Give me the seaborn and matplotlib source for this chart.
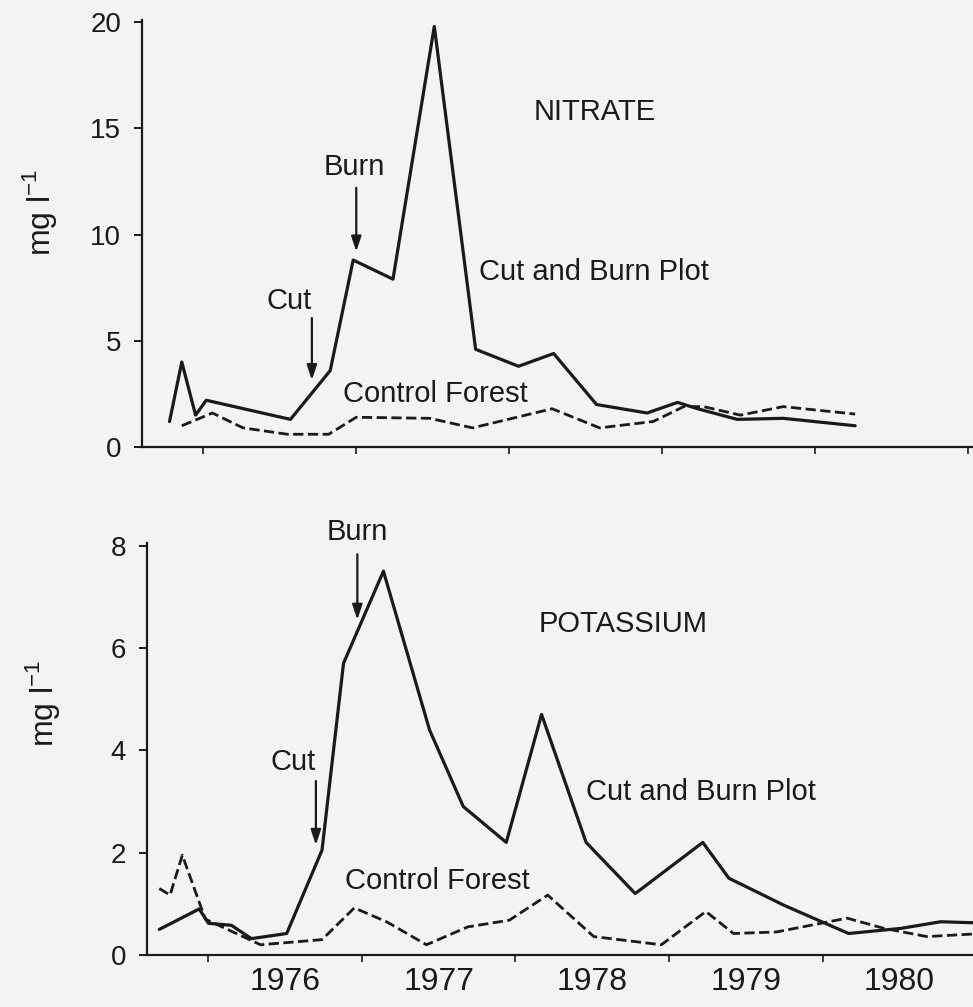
import numpy as np
import pandas as pd
import matplotlib
matplotlib.use("Agg")
import matplotlib.pyplot as plt
import seaborn as sns

# ---------------- data ----------------
nitrate_burn_x = [1975.78, 1975.86, 1975.95, 1976.02, 1976.57, 1976.83, 1976.98, 1977.24,
                  1977.51, 1977.78, 1978.06, 1978.29, 1978.57, 1978.90, 1979.10, 1979.23,
                  1979.49, 1979.79, 1980.26]
nitrate_burn_y = [1.2, 4.0, 1.5, 2.2, 1.3, 3.6, 8.8, 7.9,
                  19.8, 4.6, 3.8, 4.4, 2.0, 1.6, 2.1, 1.8,
                  1.3, 1.35, 1.0]

nitrate_ctrl_x = [1975.86, 1976.06, 1976.26, 1976.55, 1976.82, 1977.00, 1977.48, 1977.76,
                  1978.28, 1978.59, 1978.94, 1979.14, 1979.27, 1979.51, 1979.79, 1980.26]
nitrate_ctrl_y = [1.0, 1.6, 0.9, 0.6, 0.6, 1.4, 1.35, 0.9,
                  1.8, 0.9, 1.2, 1.9, 1.9, 1.5, 1.9, 1.55]

potass_burn_x = [1975.68, 1975.94, 1976.00, 1976.15, 1976.28, 1976.51, 1976.74, 1976.88,
                 1977.14, 1977.44, 1977.66, 1977.94, 1978.17, 1978.46, 1978.78, 1979.22,
                 1979.39, 1979.75, 1980.17, 1980.51, 1980.77, 1980.98]
potass_burn_y = [0.5, 0.9, 0.62, 0.58, 0.32, 0.42, 2.05, 5.7,
                 7.5, 4.4, 2.9, 2.2, 4.7, 2.2, 1.2, 2.2,
                 1.5, 0.97, 0.42, 0.52, 0.65, 0.63]

potass_ctrl_x = [1975.68, 1975.75, 1975.83, 1975.98, 1976.34, 1976.74, 1976.95, 1977.16,
                 1977.42, 1977.69, 1977.96, 1978.21, 1978.51, 1978.95, 1979.24, 1979.42,
                 1979.70, 1980.16, 1980.40, 1980.68, 1980.98]
potass_ctrl_y = [1.3, 1.17, 1.95, 0.7, 0.2, 0.3, 0.92, 0.65,
                 0.2, 0.55, 0.68, 1.17, 0.36, 0.2, 0.85, 0.42,
                 0.45, 0.72, 0.52, 0.36, 0.41]

year_ticks = [1976, 1977, 1978, 1979, 1980]
year_labels = ["1976", "1977", "1978", "1979", "1980"]
nitrate_yticks = [0, 5, 10, 15, 20]
potass_yticks = [0, 2, 4, 6, 8]

# ---------------- style ----------------
sns.set_style("ticks")
plt.rcParams['font.family'] = ['Liberation Sans', 'DejaVu Sans']
plt.rcParams['mathtext.fontset'] = 'custom'
plt.rcParams['mathtext.rm'] = 'Liberation Sans'

bg = "#f3f3f1"
fig = plt.figure(figsize=(9.73, 10.07), dpi=100, facecolor=bg)

W, H = 973, 1007
ax1 = fig.add_axes([142 / W, 560 / H, (W - 142) / W, 427 / H])
ax2 = fig.add_axes([147 / W, 52 / H, (W - 147) / W, 412 / H])

ink = "#1a1a1a"
for ax in (ax1, ax2):
    ax.set_facecolor(bg)
    sns.despine(ax=ax)
    for s in ("left", "bottom"):
        ax.spines[s].set_linewidth(1.6)
        ax.spines[s].set_color(ink)
    ax.tick_params(axis="y", direction="out", length=6, width=1.4, labelsize=20,
                   colors=ink, pad=9)
    ax.tick_params(axis="x", which="major", direction="out", length=5, width=1.2,
                   colors=ink)

# top panel lines
sns.lineplot(x=nitrate_burn_x, y=nitrate_burn_y, ax=ax1, color=ink, lw=2.3,
             estimator=None, sort=False)
sns.lineplot(x=nitrate_ctrl_x, y=nitrate_ctrl_y, ax=ax1, color=ink, lw=2.0,
             linestyle="--", estimator=None, sort=False)
# bottom panel lines
sns.lineplot(x=potass_burn_x, y=potass_burn_y, ax=ax2, color=ink, lw=2.3,
             estimator=None, sort=False)
sns.lineplot(x=potass_ctrl_x, y=potass_ctrl_y, ax=ax2, color=ink, lw=2.0,
             linestyle="--", estimator=None, sort=False)

# axes limits / ticks
ax1.set_xlim(1975.60, 1981.03)
ax1.set_ylim(0, 20.1)
ax1.set_xticks(year_ticks + [1981])
ax1.set_xticklabels([])
ax1.set_yticks(nitrate_yticks)
ax1.set_yticklabels([str(v) for v in nitrate_yticks])

ax2.set_xlim(1975.60, 1980.98)
ax2.set_ylim(0, 8.05)
ax2.set_xticks(year_ticks)
ax2.set_xticklabels([])
ax2.set_xticks([y + 0.5 for y in year_ticks], minor=True)
ax2.set_xticklabels(year_labels, minor=True)
ax2.tick_params(axis="x", which="minor", length=0, labelsize=23, pad=9, colors=ink)
ax2.set_yticks(potass_yticks)
ax2.set_yticklabels([str(v) for v in potass_yticks])

for ax, (lx, ly) in ((ax1, (-0.100, 0.55)), (ax2, (-0.103, 0.61))):
    ax.set_ylabel("mg l$^{-1}$", fontsize=23, color=ink)
    ax.yaxis.set_label_coords(lx, ly)
    ax.set_xlabel("")

txt = dict(fontsize=21, color=ink, ha="center", va="center")
arrow = dict(arrowstyle="-|>,head_length=0.9,head_width=0.3", color=ink, lw=1.6,
             shrinkA=0, shrinkB=0)

# top annotations
ax1.text(1978.56, 15.76, "NITRATE", **txt)
ax1.text(1978.55, 8.24, "Cut and Burn Plot", **txt)
ax1.text(1977.52, 2.49, "Control Forest", **txt)
ax1.text(1976.99, 13.2, "Burn", **txt)
ax1.annotate("", xy=(1977.00, 9.2), xytext=(1977.00, 12.2), arrowprops=arrow)
ax1.text(1976.56, 6.87, "Cut", **txt)
ax1.annotate("", xy=(1976.71, 3.15), xytext=(1976.71, 6.07), arrowprops=arrow)

# bottom annotations
ax2.text(1978.70, 6.47, "POTASSIUM", **txt)
ax2.text(1979.21, 3.18, "Cut and Burn Plot", **txt)
ax2.text(1977.49, 1.44, "Control Forest", **txt)
ax2.text(1976.97, 8.27, "Burn", clip_on=False, **txt)
ax2.annotate("", xy=(1976.97, 6.55), xytext=(1976.97, 7.83), arrowprops=arrow,
             annotation_clip=False)
ax2.text(1976.55, 3.77, "Cut", **txt)
ax2.annotate("", xy=(1976.70, 2.15), xytext=(1976.70, 3.40), arrowprops=arrow)

fig.savefig("out.png", dpi=100, facecolor=bg)
